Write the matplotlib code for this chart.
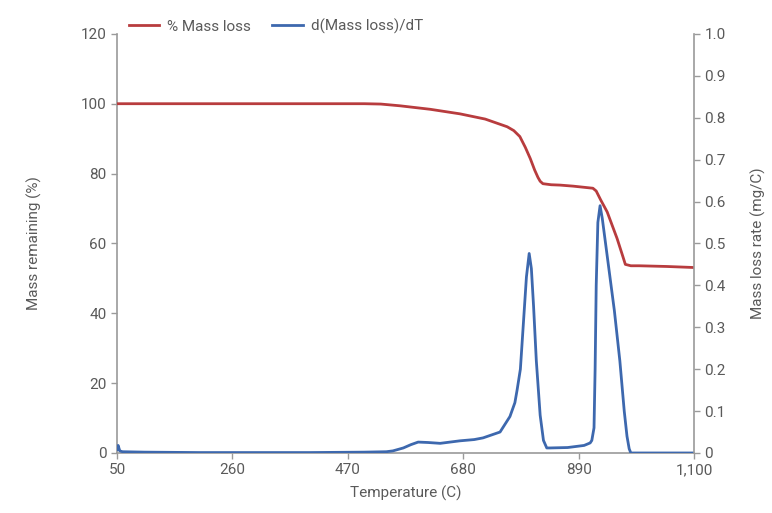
import matplotlib
matplotlib.use("Agg")
import matplotlib.pyplot as plt
from matplotlib import font_manager

# temperature (C) vs % mass remaining
red_T = [50, 300, 500, 530, 565, 620, 674, 720, 760, 772, 783, 793, 802, 810, 816,
         820, 825, 840, 856, 880, 916, 922, 930, 942, 960, 970, 975, 985, 1000, 1050, 1100]
red_v = [100, 100, 100, 99.9, 99.4, 98.4, 97.1, 95.6, 93.4, 92.3, 90.6, 87.5, 84.3, 81, 78.9,
         77.8, 77.1, 76.8, 76.7, 76.4, 75.8, 75.0, 72.5, 69, 61.4, 56.5, 54, 53.6, 53.6, 53.4, 53.1]

# temperature (C) vs mass loss rate (mg/C)
blue_T = [50, 52, 55, 60, 100, 200, 300, 400, 500, 540, 552, 571, 585, 598, 616, 638, 656,
          674, 700, 716, 747, 765, 774, 778, 784, 789, 795, 800, 804, 808, 813, 820, 826, 832,
          838, 870, 900, 911, 914, 918, 920, 922, 925, 929, 933, 940, 947, 955, 965, 973, 978,
          982, 985, 1000, 1100]
blue_v = [0.008, 0.018, 0.005, 0.003, 0.002, 0.001, 0.001, 0.001, 0.002, 0.003, 0.005, 0.012,
          0.02, 0.026, 0.025, 0.023, 0.026, 0.029, 0.032, 0.036, 0.05, 0.087, 0.12, 0.15, 0.2,
          0.3, 0.42, 0.476, 0.44, 0.35, 0.22, 0.09, 0.03, 0.012, 0.012, 0.013, 0.018, 0.024, 0.03,
          0.06, 0.2, 0.4, 0.55, 0.59, 0.56, 0.49, 0.42, 0.34, 0.22, 0.1, 0.04, 0.01, 0.0, 0.0, 0.0]

x_ticks = [50, 260, 470, 680, 890, 1100]
x_labels = ["50", "260", "470", "680", "890", "1,100"]
left_ticks = [0, 20, 40, 60, 80, 100, 120]
right_ticks = [0, 0.1, 0.2, 0.3, 0.4, 0.5, 0.6, 0.7, 0.8, 0.9, 1.0]
right_labels = ["0", "0.1", "0.2", "0.3", "0.4", "0.5", "0.6", "0.7", "0.8", "0.9", "1.0"]

names = {f.name for f in font_manager.fontManager.ttflist}
fam = "Liberation Sans Narrow" if "Liberation Sans Narrow" in names else "Roboto"
plt.rcParams["font.family"] = [fam, "DejaVu Sans"]

txt = "#5a5a5a"
axc = "#9a9a9a"
red = "#b83c3e"
blue = "#3d68ae"

fig = plt.figure(figsize=(7.72, 5.13), dpi=100)
ax = fig.add_axes([0.1516, 0.117, 0.7474, 0.817])
ax2 = ax.twinx()

l1, = ax.plot(red_T, red_v, color=red, lw=2, label="% Mass loss", zorder=3)
l2, = ax2.plot(blue_T, blue_v, color=blue, lw=2, label="d(Mass loss)/dT")

ax.set_xlim(50, 1100)
ax.set_ylim(0, 120)
ax2.set_ylim(0, 1.0)
ax.set_xticks(x_ticks)
ax.set_xticklabels(x_labels)
ax.set_yticks(left_ticks)
ax2.set_yticks(right_ticks)
ax2.set_yticklabels(right_labels)

for a in (ax, ax2):
    a.spines["top"].set_visible(False)
    for s in ("left", "right", "bottom"):
        a.spines[s].set_color(axc)
        a.spines[s].set_linewidth(1.2)
    a.tick_params(colors=axc, labelcolor=txt, labelsize=11, length=4, width=1)
    a.set_facecolor("none")
ax.spines["right"].set_visible(False)
ax2.spines["left"].set_visible(False)
ax2.spines["bottom"].set_visible(False)

ax.set_xlabel("Temperature (C)", color=txt, fontsize=11, labelpad=6)
ax.set_ylabel("Mass remaining (%)", color=txt, fontsize=11, labelpad=28)
ax2.set_ylabel("Mass loss rate (mg/C)", color=txt, fontsize=11, labelpad=18)

leg = ax.legend(handles=[l1, l2], loc="lower left", bbox_to_anchor=(0.01, 0.985),
                ncol=2, frameon=False, fontsize=11, handlelength=2.0,
                columnspacing=1.4, handletextpad=0.5, borderaxespad=0)
for t in leg.get_texts():
    t.set_color(txt)

fig.savefig("out.png", dpi=100)
